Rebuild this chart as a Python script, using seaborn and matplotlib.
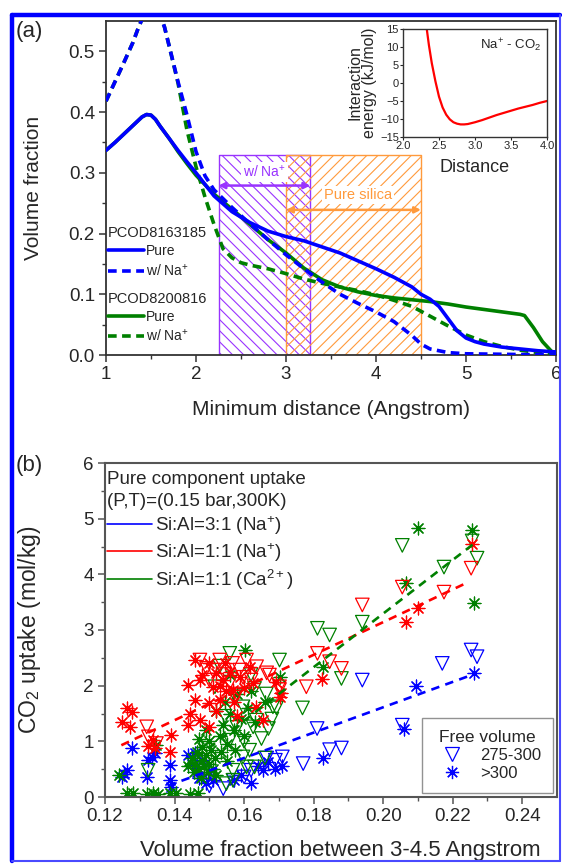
import matplotlib
matplotlib.use("Agg")
import matplotlib.pyplot as plt
import seaborn as sns
import pandas as pd
from matplotlib.lines import Line2D

# ---------------- Panel (a) data ----------------
bp_x = [1.0, 1.1, 1.2, 1.3, 1.4, 1.45, 1.5, 1.55, 1.6, 1.7, 1.8, 1.9, 2.0, 2.2, 2.4, 2.6, 2.8, 3.0, 3.2, 3.4,
        3.6, 3.8, 4.0, 4.2, 4.4, 4.5, 4.6, 4.7, 4.8, 4.9, 5.0, 5.1, 5.2, 5.4, 5.6, 5.8, 6.0]
bp_y = [0.337, 0.350, 0.364, 0.378, 0.392, 0.396, 0.395, 0.388, 0.377, 0.357, 0.337, 0.318, 0.300, 0.262,
        0.236, 0.218, 0.204, 0.195, 0.188, 0.178, 0.168, 0.155, 0.142, 0.128, 0.112, 0.100, 0.092, 0.080,
        0.060, 0.040, 0.028, 0.022, 0.018, 0.013, 0.010, 0.007, 0.005]
bn_x = [1.0, 1.1, 1.2, 1.3, 1.35, 1.4, 1.45, 1.5, 1.55, 1.6, 1.65, 1.7, 1.8, 1.9, 2.0, 2.1, 2.2, 2.4, 2.6,
        2.8, 3.0, 3.2, 3.4, 3.6, 3.8, 4.0, 4.2, 4.4, 4.5, 4.6, 4.8, 5.0, 5.5, 6.0]
bn_y = [0.418, 0.450, 0.482, 0.515, 0.535, 0.553, 0.566, 0.572, 0.570, 0.560, 0.540, 0.510, 0.450, 0.395,
        0.335, 0.295, 0.272, 0.243, 0.216, 0.190, 0.165, 0.142, 0.120, 0.100, 0.085, 0.071, 0.055, 0.032,
        0.018, 0.010, 0.004, 0.002, 0.001, 0.000]
gp_x = [1.0, 1.1, 1.2, 1.3, 1.4, 1.45, 1.5, 1.55, 1.6, 1.7, 1.8, 1.9, 2.0, 2.2, 2.4, 2.6, 2.8, 3.0, 3.2, 3.4,
        3.6, 3.8, 4.0, 4.2, 4.4, 4.6, 4.8, 5.0, 5.2, 5.4, 5.6, 5.65, 5.75, 5.85, 5.95, 6.0]
gp_y = [0.337, 0.350, 0.364, 0.378, 0.392, 0.396, 0.395, 0.388, 0.377, 0.357, 0.335, 0.315, 0.296, 0.265,
        0.240, 0.215, 0.190, 0.168, 0.143, 0.124, 0.112, 0.104, 0.098, 0.094, 0.091, 0.088, 0.084, 0.079,
        0.075, 0.071, 0.067, 0.065, 0.045, 0.022, 0.006, 0.003]
gn_x = [1.0, 1.1, 1.2, 1.3, 1.35, 1.4, 1.45, 1.5, 1.55, 1.6, 1.65, 1.7, 1.8, 1.9, 2.0, 2.1, 2.2, 2.3, 2.4,
        2.5, 2.6, 2.8, 3.0, 3.2, 3.4, 3.6, 3.8, 4.0, 4.2, 4.4, 4.5, 4.6, 4.8, 5.0, 5.2, 5.4, 5.6, 5.8, 6.0]
gn_y = [0.418, 0.450, 0.482, 0.515, 0.535, 0.553, 0.566, 0.572, 0.570, 0.560, 0.540, 0.510, 0.448, 0.370,
        0.310, 0.260, 0.215, 0.175, 0.160, 0.152, 0.148, 0.142, 0.134, 0.125, 0.118, 0.112, 0.106, 0.099,
        0.090, 0.080, 0.072, 0.064, 0.048, 0.033, 0.022, 0.014, 0.008, 0.004, 0.002]

region_na_x = [2.25, 3.27]
region_pure_x = [3.0, 4.5]
region_top = [0.33, 0.33]
arrow_na_y = 0.279
arrow_pure_y = 0.239

# inset: Na+ - CO2 interaction energy
in_x = [2.33, 2.36, 2.40, 2.45, 2.50, 2.55, 2.60, 2.65, 2.70, 2.75, 2.80, 2.85, 2.90, 3.00, 3.10, 3.20, 3.30,
        3.40, 3.50, 3.60, 3.70, 3.80, 3.90, 4.00]
in_y = [15.0, 10.5, 5.5, 0.5, -3.8, -6.8, -8.8, -10.1, -10.9, -11.3, -11.5, -11.5, -11.4, -10.9, -10.3, -9.6,
        -8.9, -8.3, -7.7, -7.1, -6.6, -6.1, -5.5, -5.0]

# ---------------- Panel (b) data ----------------
# Si:Al=3:1 (Na+) -- blue
b_ast_x = [0.1248, 0.1255, 0.1262, 0.1277, 0.1320, 0.1325, 0.1335, 0.1345, 0.1386, 0.1386, 0.1391, 0.1440,
           0.1450, 0.1458, 0.1465, 0.1470, 0.1480, 0.1490, 0.1500, 0.1510, 0.1570, 0.1590, 0.1620, 0.1640,
           0.1655, 0.1670, 0.1690, 0.1710, 0.1826, 0.2060, 0.2095, 0.2260]
b_ast_y = [0.36, 0.42, 0.48, 0.88, 0.36, 0.66, 0.72, 0.79, 0.57, 0.30, 0.18, 0.75, 0.60, 0.79, 0.45, 0.35,
           0.66, 0.25, 0.45, 0.30, 0.30, 0.40, 0.25, 0.55, 0.48, 0.62, 0.50, 0.55, 0.70, 1.22, 2.00, 2.22]
b_tri_x = [0.1500, 0.1540, 0.1570, 0.1600, 0.1620, 0.1665, 0.1690, 0.1710, 0.1770, 0.1810, 0.1846, 0.1880,
           0.1940, 0.2055, 0.2170, 0.2253, 0.2270]
b_tri_y = [0.20, 0.15, 0.30, 0.36, 0.48, 0.70, 0.66, 0.72, 0.60, 1.23, 0.85, 0.88, 2.10, 1.29, 2.40, 2.64, 2.52]

# Si:Al=1:1 (Na+) -- red
r_ast_x = [0.1248, 0.1262, 0.1277, 0.1272, 0.1325, 0.1339, 0.1345, 0.1386, 0.1391, 0.1439, 0.1444, 0.1458,
           0.1473, 0.1473, 0.1480, 0.1500, 0.1500, 0.1511, 0.1520, 0.1530, 0.1540, 0.1544, 0.1549, 0.1568,
           0.1587, 0.1616, 0.1626, 0.1635, 0.1654, 0.1693, 0.1702, 0.1707, 0.1823, 0.2067, 0.2099, 0.2256,
           0.1460, 0.1500, 0.1530, 0.1560, 0.1580, 0.1600, 0.1440, 0.1520, 0.1570]
r_ast_y = [1.35, 1.59, 1.53, 1.26, 0.92, 1.02, 0.88, 0.81, 1.11, 2.01, 1.50, 2.46, 2.10, 1.38, 2.20, 1.26,
           1.68, 1.98, 2.22, 1.74, 2.10, 2.40, 1.90, 1.92, 2.16, 2.34, 2.05, 1.62, 1.38, 2.07, 1.80, 1.87,
           2.12, 3.14, 3.39, 4.55, 1.75, 2.40, 2.00, 2.25, 1.45, 1.95, 1.30, 1.55, 1.70]
r_tri_x = [0.1320, 0.1325, 0.1348, 0.1473, 0.1492, 0.1510, 0.1530, 0.1559, 0.1567, 0.1587, 0.1597, 0.1607,
           0.1636, 0.1665, 0.1673, 0.1702, 0.1702, 0.1779, 0.1811, 0.1846, 0.1880, 0.1940, 0.2055, 0.2175,
           0.2253, 0.1545, 0.1620, 0.1500, 0.1580]
r_tri_y = [1.26, 1.08, 0.96, 2.46, 2.31, 2.28, 2.46, 2.05, 2.40, 2.28, 2.15, 2.46, 2.34, 2.23, 2.19, 1.98,
           1.93, 1.98, 2.58, 2.43, 2.31, 3.45, 3.77, 3.68, 4.11, 2.20, 2.10, 2.10, 1.85]

# Si:Al=1:1 (Ca2+) -- green
g_ast_x = [0.1262, 0.1281, 0.1320, 0.1339, 0.1353, 0.1386, 0.1405, 0.1444, 0.1468, 0.1240, 0.1348, 0.1440,
           0.1450, 0.1455, 0.1460, 0.1465, 0.1470, 0.1475, 0.1480, 0.1485, 0.1490, 0.1495, 0.1500, 0.1505,
           0.1510, 0.1515, 0.1520, 0.1480, 0.1500, 0.1530, 0.1540, 0.1550, 0.1560, 0.1570, 0.1545, 0.1580,
           0.1590, 0.1600, 0.1610, 0.1602, 0.1620, 0.1630, 0.1560, 0.1660, 0.1702, 0.1826, 0.2067, 0.2099,
           0.2256, 0.2262, 0.1520, 0.1490, 0.1470, 0.1535, 0.1550, 0.1575]
g_ast_y = [0.07, 0.07, 0.06, 0.07, 0.06, 0.07, 0.07, 0.06, 0.07, 0.40, 0.93, 0.55, 0.70, 0.45, 0.60, 0.80,
           0.50, 0.35, 0.65, 0.55, 0.75, 0.45, 0.60, 0.85, 0.50, 0.70, 0.40, 0.90, 1.00, 1.10, 1.30, 0.95,
           1.50, 1.20, 1.70, 1.85, 1.40, 1.10, 1.60, 2.64, 1.90, 1.35, 2.20, 1.70, 2.16, 2.34, 3.84, 4.83,
           4.79, 3.48, 1.55, 1.20, 1.05, 0.80, 0.65, 0.85]
g_tri_x = [0.1324, 0.1559, 0.1516, 0.1630, 0.1597, 0.1626, 0.1600, 0.1597, 0.1630, 0.1568, 0.1549, 0.1702,
           0.1693, 0.1664, 0.1670, 0.1559, 0.1616, 0.1607, 0.1568, 0.1635, 0.1683, 0.1768, 0.1880, 0.1811,
           0.1846, 0.1940, 0.2055, 0.2175, 0.2256, 0.2270, 0.1650, 0.1680, 0.1545, 0.1575, 0.1530, 0.1620,
           0.1660, 0.1580]
g_tri_y = [0.48, 2.58, 1.98, 1.95, 1.62, 1.26, 1.00, 0.72, 0.54, 0.30, 0.24, 2.46, 1.60, 1.85, 1.23, 1.02,
           0.84, 0.54, 0.48, 1.38, 1.62, 1.60, 2.13, 3.03, 2.91, 3.14, 4.52, 4.13, 4.60, 4.29, 1.05, 1.40,
           1.45, 1.80, 2.35, 2.20, 0.70, 1.25]

# dashed linear trends
fit_b_x, fit_b_y = [0.1380, 0.2267], [0.20, 2.22]
fit_r_x, fit_r_y = [0.1247, 0.2238], [0.93, 3.84]
fit_g_x, fit_g_y = [0.1430, 0.2267], [0.55, 4.58]

# ---------------- style ----------------
sns.set_style("ticks")
plt.rcParams["font.family"] = ["Liberation Sans", "DejaVu Sans"]
plt.rcParams["mathtext.fontset"] = "custom"
plt.rcParams["mathtext.rm"] = "Liberation Sans"
plt.rcParams["mathtext.it"] = "Liberation Sans:italic"
plt.rcParams["mathtext.bf"] = "Liberation Sans:bold"
plt.rcParams["hatch.linewidth"] = 0.8

BLUE = "#0000ff"
GREEN = "#008000"
RED = "#ff0000"
PURPLE = "#9933ff"
ORANGE = "#ff9a3c"

W, H = 562, 864
fig = plt.figure(figsize=(W / 100, H / 100), dpi=100)


def px_axes(l, t, r, b):
    return [l / W, 1 - b / H, (r - l) / W, (b - t) / H]


# ======== Panel (a) ========
axA = fig.add_axes(px_axes(106, 21, 556, 355))
axA.fill_between(region_na_x, 0, region_top, facecolor="none", edgecolor=PURPLE, hatch="\\\\\\",
                 linewidth=1.0, zorder=1)
axA.fill_between(region_pure_x, 0, region_top, facecolor="none", edgecolor=ORANGE, hatch="///",
                 linewidth=1.0, zorder=1)
axA.annotate("", xy=(region_na_x[1], arrow_na_y), xytext=(region_na_x[0], arrow_na_y),
             arrowprops=dict(arrowstyle="<|-|>", color=PURPLE, lw=1.8, mutation_scale=9,
                             shrinkA=0, shrinkB=0), zorder=4)
axA.annotate("", xy=(region_pure_x[1], arrow_pure_y), xytext=(region_pure_x[0], arrow_pure_y),
             arrowprops=dict(arrowstyle="<|-|>", color=ORANGE, lw=1.8, mutation_scale=9,
                             shrinkA=0, shrinkB=0), zorder=4)
axA.text(2.76, 0.302, "w/ Na$^{+}$", color=PURPLE, fontsize=10, ha="center", va="center", zorder=5,
         bbox=dict(facecolor="white", edgecolor="none", pad=1.5))
axA.text(3.80, 0.264, "Pure silica", color=ORANGE, fontsize=10.5, ha="center", va="center", zorder=5,
         bbox=dict(facecolor="white", edgecolor="none", pad=1.5))

dash_a = (0, (2.4, 1.5))
sns.lineplot(x=gn_x, y=gn_y, color=GREEN, lw=2.6, linestyle=dash_a, ax=axA, zorder=3)
sns.lineplot(x=gp_x, y=gp_y, color=GREEN, lw=2.6, ax=axA, zorder=3)
sns.lineplot(x=bn_x, y=bn_y, color=BLUE, lw=2.6, linestyle=dash_a, ax=axA, zorder=3)
sns.lineplot(x=bp_x, y=bp_y, color=BLUE, lw=2.6, ax=axA, zorder=3)

axA.set_xlim(1, 6)
axA.set_ylim(0, 0.55)
axA.set_xticks([1, 2, 3, 4, 5, 6])
axA.set_xticks([1.5, 2.5, 3.5, 4.5, 5.5], minor=True)
axA.set_yticks([0.0, 0.1, 0.2, 0.3, 0.4, 0.5])
axA.set_yticks([0.05, 0.15, 0.25, 0.35, 0.45], minor=True)
axA.set_yticklabels(["0.0", "0.1", "0.2", "0.3", "0.4", "0.5"])
axA.tick_params(which="major", direction="out", length=5, width=1.1, labelsize=13.5, pad=3, color="#333333")
axA.tick_params(which="minor", direction="out", length=3, width=1.0, color="#333333")
for s in axA.spines.values():
    s.set_color("#333333")
    s.set_linewidth(1.3)
axA.set_xlabel("Minimum distance (Angstrom)", fontsize=15)
axA.set_ylabel("Volume fraction", fontsize=15)
axA.xaxis.set_label_coords(0.5, -0.135)
axA.yaxis.set_label_coords(-0.14, 0.5)

h_pure_b = Line2D([], [], color=BLUE, lw=2.6)
h_na_b = Line2D([], [], color=BLUE, lw=2.6, linestyle=dash_a)
h_pure_g = Line2D([], [], color=GREEN, lw=2.6)
h_na_g = Line2D([], [], color=GREEN, lw=2.6, linestyle=dash_a)
legA1 = axA.legend([h_pure_b, h_na_b], ["Pure", "w/ Na$^{+}$"], title="PCOD8163185", loc="upper left",
                   bbox_to_anchor=(0.004, 0.386), frameon=False, fontsize=10, title_fontsize=10.5,
                   handlelength=2.6, handletextpad=0.15, borderpad=0, borderaxespad=0, labelspacing=0.3,
                   alignment="left")
axA.add_artist(legA1)
legA2 = axA.legend([h_pure_g, h_na_g], ["Pure", "w/ Na$^{+}$"], title="PCOD8200816", loc="upper left",
                   bbox_to_anchor=(0.004, 0.190), frameon=False, fontsize=10, title_fontsize=10.5,
                   handlelength=2.6, handletextpad=0.15, borderpad=0, borderaxespad=0, labelspacing=0.3,
                   alignment="left")

# inset
axI = fig.add_axes(px_axes(403, 29, 547, 137))
sns.lineplot(x=in_x, y=in_y, color=RED, lw=1.6, ax=axI)
axI.set_xlim(2.0, 4.0)
axI.set_ylim(-15, 15)
axI.set_xticks([2.0, 2.5, 3.0, 3.5, 4.0])
axI.set_yticks([-15, -10, -5, 0, 5, 10, 15])
axI.tick_params(direction="out", length=2, width=0.8, labelsize=8, pad=1)
for s in axI.spines.values():
    s.set_color("#333333")
    s.set_linewidth(1.0)
axI.set_xlabel("Distance", fontsize=13, labelpad=6)
axI.set_ylabel("Interaction\nenergy (kJ/mol)", fontsize=11.5, labelpad=2, linespacing=1.0)
axI.text(0.96, 0.93, "Na$^{+}$ - CO$_{2}$", transform=axI.transAxes, ha="right", va="top", fontsize=9.5)

# ======== Panel (b) ========
axB = fig.add_axes(px_axes(105, 463, 557, 797))

asterisk = (8, 2, 0)


def scatter_group(xs, ys, color, marker):
    df = pd.DataFrame({"x": xs, "y": ys})
    if marker == "v":
        sns.scatterplot(data=df, x="x", y="y", ax=axB, marker="v", s=95, facecolor="none",
                        edgecolor=color, linewidth=0.9, zorder=2)
    else:
        sns.scatterplot(data=df, x="x", y="y", ax=axB, marker=asterisk, s=85, color=color,
                        linewidth=0.9, zorder=2)


scatter_group(b_ast_x, b_ast_y, BLUE, "*")
scatter_group(b_tri_x, b_tri_y, BLUE, "v")
scatter_group(g_tri_x, g_tri_y, GREEN, "v")
scatter_group(g_ast_x, g_ast_y, GREEN, "*")
scatter_group(r_tri_x, r_tri_y, RED, "v")
scatter_group(r_ast_x, r_ast_y, RED, "*")

dash_b = (0, (3.2, 2.4))
sns.lineplot(x=fit_b_x, y=fit_b_y, color=BLUE, lw=1.9, linestyle=dash_b, ax=axB, zorder=3)
sns.lineplot(x=fit_r_x, y=fit_r_y, color=RED, lw=1.9, linestyle=dash_b, ax=axB, zorder=3)
sns.lineplot(x=fit_g_x, y=fit_g_y, color=GREEN, lw=1.9, linestyle=dash_b, ax=axB, zorder=3)

axB.set_xlim(0.12, 0.25)
axB.set_ylim(0, 6)
axB.set_xticks([0.12, 0.14, 0.16, 0.18, 0.20, 0.22, 0.24])
axB.set_xticklabels(["0.12", "0.14", "0.16", "0.18", "0.20", "0.22", "0.24"])
axB.set_xticks([0.13, 0.15, 0.17, 0.19, 0.21, 0.23], minor=True)
axB.set_yticks([0, 1, 2, 3, 4, 5, 6])
axB.set_yticks([0.5, 1.5, 2.5, 3.5, 4.5, 5.5], minor=True)
axB.tick_params(which="major", direction="out", length=5, width=1.1, labelsize=13.5, pad=3, color="#555555")
axB.tick_params(which="minor", direction="out", length=3, width=1.0, color="#555555")
for s in axB.spines.values():
    s.set_color("#555555")
    s.set_linewidth(1.5)
axB.set_xlabel("Volume fraction between 3-4.5 Angstrom", fontsize=16)
axB.set_ylabel("CO$_2$ uptake (mol/kg)", fontsize=16.5)
axB.xaxis.set_label_coords(0.52, -0.128)
axB.yaxis.set_label_coords(-0.138, 0.5)

hB = [Line2D([], [], color=BLUE, lw=1.2), Line2D([], [], color=RED, lw=1.2), Line2D([], [], color=GREEN, lw=1.2)]
legB1 = axB.legend(hB, ["Si:Al=3:1 (Na$^{+}$)", "Si:Al=1:1 (Na$^{+}$)", "Si:Al=1:1 (Ca$^{2+}$)"],
                   title="Pure component uptake\n(P,T)=(0.15 bar,300K)", loc="upper left",
                   bbox_to_anchor=(0.004, 0.975), frameon=False, fontsize=13.5, title_fontsize=13.5,
                   handlelength=2.4, handletextpad=0.15, borderpad=0, borderaxespad=0, labelspacing=0.22,
                   alignment="left")
legB1.get_title().set_linespacing(1.35)
axB.add_artist(legB1)
hF = [Line2D([], [], color=BLUE, marker="v", markersize=9.5, markerfacecolor="none", linestyle="none",
             markeredgewidth=0.9),
      Line2D([], [], color=BLUE, marker=asterisk, markersize=9.5, linestyle="none", markeredgewidth=0.9)]
legB2 = axB.legend(hF, ["275-300", ">300"], title="Free volume", loc="lower right",
                   bbox_to_anchor=(0.991, 0.012), frameon=True, fancybox=False, edgecolor="#777777",
                   fontsize=12, title_fontsize=12.5, borderaxespad=0, handletextpad=0.6,
                   handlelength=2.2, labelspacing=0.2, borderpad=0.7)
legB2.get_frame().set_linewidth(1.0)

# panel labels
fig.text(16 / W, 1 - 31 / H, "(a)", fontsize=16, ha="left", va="center")
fig.text(16 / W, 1 - 465 / H, "(b)", fontsize=16, ha="left", va="center")

# blue frame around the figure
fig.add_artist(Line2D([12 / W, 12 / W], [1 - 15 / H, 1 - 861 / H], transform=fig.transFigure,
                      color="#0000ff", lw=3.2))
fig.add_artist(Line2D([12 / W, 560 / W], [1 - 15 / H, 1 - 15 / H], transform=fig.transFigure,
                      color="#0000ff", lw=3.2))
fig.add_artist(Line2D([560 / W, 560 / W], [1 - 15 / H, 1 - 861 / H], transform=fig.transFigure,
                      color="#4a4aff", lw=1.5))
fig.add_artist(Line2D([12 / W, 560 / W], [1 - 861 / H, 1 - 861 / H], transform=fig.transFigure,
                      color="#4a4aff", lw=1.5))

fig.savefig("out.png", dpi=100)
